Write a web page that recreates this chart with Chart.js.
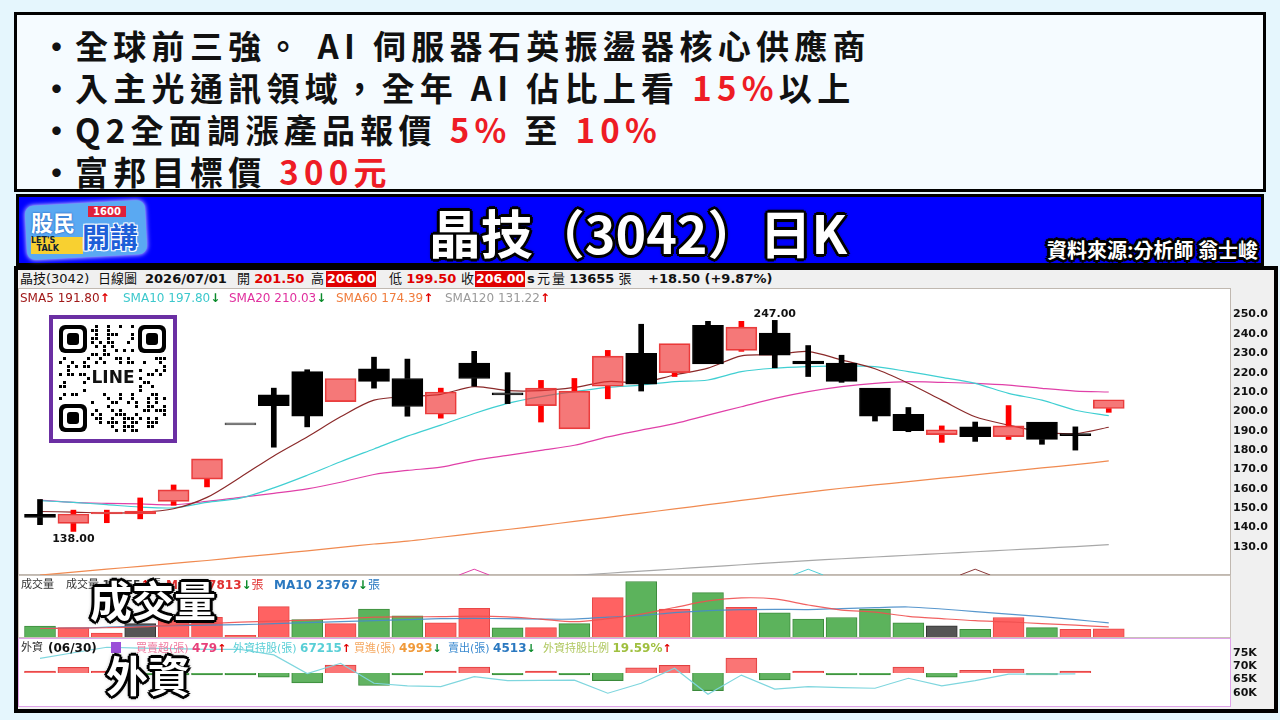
<!DOCTYPE html>
<html>
<head>
<meta charset="utf-8">
<script src="https://cdn.jsdelivr.net/npm/chart.js@4.4.1/dist/chart.umd.min.js"></script>
<style>
  body { margin: 0; width: 1280px; height: 720px; background: #e5f6fd; position: relative; overflow: hidden;
         font-family: "DejaVu Sans", "Noto Sans CJK TC", sans-serif; }
  .abs { position: absolute; white-space: nowrap; }
  #notes { left: 14px; top: 12px; width: 1246px; height: 174px; background: #f5fbff; border: 3px solid #000; }
  .note { position: absolute; left: 40px; height: 42px; line-height: 42px; font: bold 33px "Noto Sans CJK TC";
          letter-spacing: 5.3px; color: #111; white-space: nowrap; }
  .note .dot { display: inline-block; width: 35px; letter-spacing: 0; }
  .red { color: #ee1c25; }
  #titlebar { left: 16px; top: 194px; width: 1242px; height: 66px; background: #0000ff; border: 3px solid #000; }
  .outline { color: #fff; text-shadow: -2px -2px 0 #000, 2px -2px 0 #000, -2px 2px 0 #000, 2px 2px 0 #000,
             0 -3px 0 #000, 0 3px 0 #000, -3px 0 0 #000, 3px 0 0 #000, 0 0 5px #000; }
  #board { left: 14px; top: 266px; width: 1256px; height: 439px; background: #f0f0f0; border: 4px solid #000; }
  .pane { position: absolute; background: #fff; }
  canvas { position: absolute; }
  .info { position: absolute; top: 270px; font-size: 13px; line-height: 18px; color: #111; white-space: nowrap; }
  .num { font-weight: bold; }
  .box { position: absolute; top: 271px; height: 16px; line-height: 16px; background: #e00000; color: #fff;
         font: bold 12.5px "DejaVu Sans"; padding: 0 1px; }
  .leg { position: absolute; font-size: 12px; line-height: 14px; white-space: nowrap; }
  .up { color: #e00000; font-weight: bold; }
  .dn { color: #0a8a2a; font-weight: bold; }
  .big { position: absolute; font: bold 42px "Noto Sans CJK TC"; line-height: 46px; white-space: nowrap; }
</style>
</head>
<body>

<!-- top notes -->
<div id="notes" class="abs"></div>
<div class="note" style="top:21px"><span class="dot">•</span>全球前三強。 AI 伺服器石英振盪器核心供應商</div>
<div class="note" style="top:63px"><span class="dot">•</span>入主光通訊領域，全年 AI 佔比上看 <span class="red">15%</span>以上</div>
<div class="note" style="top:105px"><span class="dot">•</span>Q2全面調漲產品報價 <span class="red">5%</span> 至 <span class="red">10%</span></div>
<div class="note" style="top:147px"><span class="dot">•</span>富邦目標價 <span class="red">300元</span></div>

<!-- title bar -->
<div id="titlebar" class="abs"></div>
<div class="abs" style="left:26px;top:203px;width:120px;height:54px;background:#5aa9f2;border-radius:8px;box-shadow:0 0 5px #fff;transform:rotate(-3deg)"></div>
<div class="abs" style="left:31px;top:205px;font:bold 22px 'Noto Sans CJK TC';color:#fff;text-shadow:0 0 2px #1144aa">股民</div>
<div class="abs" style="left:88px;top:206px;width:38px;height:11px;background:#e0203a;color:#fff;font:bold 10px 'DejaVu Sans';line-height:11px;text-align:center">1600</div>
<div class="abs" style="left:31px;top:237px;width:52px;height:17px;background:#f8d030;font:bold 8px 'DejaVu Sans';line-height:8px;color:#123">LET'S<br>&nbsp;&nbsp;TALK</div>
<div class="abs" style="left:82px;top:216px;font:bold 28px 'Noto Sans CJK TC';color:#1d5fd8;text-shadow:-1px -1px 0 #fff,1px -1px 0 #fff,-1px 1px 0 #fff,1px 1px 0 #fff">開講</div>
<div class="abs outline" style="left:0;width:1276px;top:201px;text-align:center;font:bold 52px 'Noto Sans CJK TC';line-height:62px">晶技（3042）日K</div>
<div class="abs outline" style="right:22px;top:238px;font:bold 20px 'Noto Sans CJK TC';line-height:24px">資料來源:分析師 翁士峻</div>

<!-- chart board -->
<div id="board" class="abs"></div>
<div class="pane" style="left:18px;top:288px;width:1211px;height:285px;border:1px solid #c0b8b0"></div>
<div class="pane" style="left:18px;top:575px;width:1211px;height:61px;border:1px solid #c8c0b8"></div>
<div class="pane" style="left:18px;top:638px;width:1211px;height:67px;border:1px solid #e0a4ea"></div>

<div class="info" style="left:20px">晶技(3042)</div>
<div class="info" style="left:98px">日線圖</div>
<div class="info num" style="left:145px">2026/07/01</div>
<div class="info" style="left:237px">開 <span class="num" style="color:#e00000">201.50</span></div>
<div class="info" style="left:311px">高</div>
<div class="box" style="left:326px">206.00</div>
<div class="info" style="left:389px">低 <span class="num" style="color:#e00000">199.50</span></div>
<div class="info" style="left:461px">收</div>
<div class="box" style="left:475px">206.00</div>
<div class="info" style="left:527px"><b>s</b></div>
<div class="info" style="left:537px">元</div>
<div class="info" style="left:552px">量 <span class="num">13655</span> 張</div>
<div class="info num" style="left:648px">+18.50 (+9.87%)</div>

<canvas id="priceChart" width="1249" height="286" style="left:19px;top:289px"></canvas>
<canvas id="volChart" width="1249" height="60" style="left:19px;top:577px"></canvas>
<canvas id="frgChart" width="1249" height="66" style="left:19px;top:640px"></canvas>

<div class="leg" style="left:20px;top:291px;color:#a01818">SMA5 191.80<span class="up">↑</span></div>
<div class="leg" style="left:123px;top:291px;color:#3cc8cc">SMA10 197.80<span class="dn">↓</span></div>
<div class="leg" style="left:229px;top:291px;color:#e0309e">SMA20 210.03<span class="dn">↓</span></div>
<div class="leg" style="left:336px;top:291px;color:#f07c3c">SMA60 174.39<span class="up">↑</span></div>
<div class="leg" style="left:445px;top:291px;color:#9a9a9a">SMA120 131.22<span class="up">↑</span></div>

<canvas id="qr" width="128" height="128" style="left:49px;top:315px"></canvas>

<div class="leg" style="left:21px;top:578px;color:#333;font-size:11px">成交量</div>
<div class="leg" style="left:66px;top:578px;color:#333;font-size:11px">成交量 <b>13655</b><span class="up">↑</span>張</div>
<div class="leg" style="left:166px;top:578px;color:#e03030;font-weight:bold">MA5 17813<span class="dn">↓</span><span style="font-weight:normal">張</span></div>
<div class="leg" style="left:274px;top:578px;color:#2a78c0;font-weight:bold">MA10 23767<span class="dn">↓</span><span style="font-weight:normal">張</span></div>
<div class="big outline" style="left:90px;top:576px">成交量</div>

<div class="leg" style="left:21px;top:641px;color:#333;font-size:11px">外資</div>
<div class="leg" style="left:48px;top:641px;color:#111;font-weight:bold">(06/30)</div>
<div class="abs" style="left:111px;top:642px;width:10px;height:11px;background:#9b50d8"></div>
<div class="leg" style="left:136px;top:641px;color:#f07aa0;font-size:11px">買賣超(張) <b style="color:#e8407a;font-size:12px">479</b><span class="up">↑</span></div>
<div class="leg" style="left:233px;top:641px;color:#58cfd6;font-size:11px">外資持股(張) <b style="font-size:12px">67215</b><span class="up">↑</span></div>
<div class="leg" style="left:354px;top:641px;color:#f5a860;font-size:11px">買進(張) <b style="color:#f09a3a;font-size:12px">4993</b><span class="dn">↓</span></div>
<div class="leg" style="left:448px;top:641px;color:#3a8ad0;font-size:11px">賣出(張) <b style="color:#2a78c0;font-size:12px">4513</b><span class="dn">↓</span></div>
<div class="leg" style="left:543px;top:641px;color:#b0c860;font-size:11px">外資持股比例 <b style="color:#a0c040;font-size:12px">19.59%</b><span class="up">↑</span></div>
<div class="big outline" style="left:106px;top:651px">外資</div>

<script>
// daily candles (index 0 .. 32, last = 2026/07/01)
const opens  = [146.8, 142.2, 147, 147, 153.5, 165, 193, 208.5, 220.5, 205, 222, 217, 198.5, 225, 209.5, 203, 191, 213, 230, 220, 244.5, 231.5, 240.5, 226, 225, 212, 198.5, 188, 192, 187, 194.5, 188, 201.5];
const highs  = [154.5, 149, 149, 155.3, 162, 175.5, 193, 212, 221.5, 217, 228, 227, 212, 231, 220, 216, 217, 231.5, 245, 235, 246.5, 246.5, 247, 234, 229, 212, 202, 192.5, 194.5, 203, 194.5, 192, 206];
const lows   = [141.5, 138, 142.5, 144.5, 151.5, 161, 193, 181.5, 192, 205, 212, 197.5, 196.5, 213, 204, 194.5, 191, 206.5, 210.5, 218, 224.5, 231, 222.5, 218, 215, 195, 189.5, 184, 184.5, 185.5, 183, 180, 199.5];
const closes = [145.2, 147, 148, 148.5, 159.5, 175.5, 193, 203, 197.5, 217, 215.5, 202.5, 210, 217, 208.5, 212, 210.5, 228.5, 214, 235, 224.5, 243.5, 229, 224.5, 215.5, 197.5, 190, 190.5, 187, 192.5, 185.5, 187.5, 206];

// moving averages
const sma5   = [148.3, 148.0, 147.5, 147.8, 149.7, 155.6, 166.0, 177.0, 186.8, 197.2, 205.8, 207.6, 208.8, 212.8, 210.7, 210.7, 212.4, 215.4, 214.9, 218.8, 222.3, 228.7, 229.2, 230.9, 226.6, 222.0, 214.5, 205.8, 197.2, 192.9, 189.4, 188.5, 191.8];
const sma10  = [153.9, 153.0, 151.8, 150.6, 150.2, 153.0, 155.2, 160.5, 167.0, 174.0, 180.6, 187.2, 192.9, 198.9, 204.1, 207.6, 210.2, 212.4, 213.6, 215.4, 216.2, 220.5, 222.3, 223.1, 223.5, 223.1, 220.5, 217.6, 214.5, 209.3, 205.8, 200.6, 197.8];
const sma20  = [154.2, 153.0, 152.5, 152.2, 151.8, 153.5, 155.6, 157.7, 160.0, 163.4, 167.4, 169.5, 171.2, 174.7, 177.3, 179.9, 182.5, 186.8, 190.3, 193.7, 198.1, 202.4, 206.7, 210.2, 212.8, 214.5, 215.4, 215.0, 214.5, 213.6, 211.9, 210.5, 210.0];
const sma60  = [115.5, 117, 118.5, 120, 121.5, 123, 124.7, 126.3, 128, 129.8, 131.5, 133, 135, 137, 139, 141, 143.2, 145.3, 147.5, 149.6, 151.8, 154, 156.2, 158.3, 160.3, 162, 163.7, 165.5, 167.2, 169, 170.8, 172.5, 174.4];
const sma120 = [null, null, null, null, null, null, null, null, null, null, null, null, null, null, 113, 114.2, 115.3, 116.4, 117.5, 118.6, 119.7, 120.8, 121.9, 122.9, 123.9, 124.8, 125.7, 126.6, 127.5, 128.4, 129.3, 130.2, 131.2];

// small cross markers at the bottom of the price pane
const crossDays   = [13, 23, 28];
const crossColors = ['#e040a8', '#50d0d8', '#8b3a3a'];

// volume in thousands of 張
const volume = [18.2, 15.8, 6.8, 22.6, 34, 33, 3, 51, 29.4, 22.6, 47.1, 35.7, 23.8, 48.1, 15.3, 15.8, 22.6, 66.3, 93.5, 47.1, 74.8, 49.8, 40.8, 30.1, 32.8, 47.1, 23.8, 18.7, 13.1, 32.8, 15.8, 13.1, 13.7];
const volKind = ['g', 'r', 'r', 'k', 'r', 'r', 'r', 'r', 'g', 'r', 'g', 'g', 'r', 'r', 'g', 'r', 'g', 'r', 'g', 'r', 'g', 'r', 'g', 'g', 'g', 'g', 'g', 'k', 'g', 'r', 'g', 'r', 'r'];
const volMa5  = [14.3, 14.8, 15.6, 17, 19.9, 22.4, 25, 26.7, 28.4, 30.9, 33.5, 34, 34.3, 35.2, 34, 30.1, 25.8, 30.9, 38.6, 49.6, 60.7, 65.8, 64.1, 53.9, 45.4, 42, 34.7, 30.9, 27.5, 25.5, 22.4, 19.9, 17];
const volMa10 = [14.3, 14.8, 16.5, 18.2, 19, 19.9, 20.7, 22.4, 24.1, 25.8, 27.5, 29.2, 30.9, 31.3, 30.9, 30.1, 30.1, 33.5, 36, 41.1, 44.5, 46.2, 46.6, 46.2, 47.9, 49.3, 50.5, 47.1, 42.8, 38.6, 34.3, 29.2, 23.8];

// foreign investors (data through 06/30)
const frgNet  = [300, 2300, 300, -300, -300, -300, -300, -1700, -4000, 3200, -5000, -300, 300, 2400, -600, 300, -300, -3100, 2100, 3100, -7100, 6000, -2800, 300, -300, -400, 2400, -1700, 1100, 1600, -300, 479];
const frgHold = [73.1, 75.2, 77.3, 77.0, 76.8, 76.5, 76.5, 74.4, 67.3, 71.2, 63.6, 62.6, 62.3, 66.1, 64.6, 64.7, 64.8, 59.8, 63.6, 69.3, 59.4, 66.7, 61.4, 62.3, 61.9, 61.7, 65.5, 62.6, 64.6, 67.1, 67.1, 67.2];

// axis tick labels
const priceTickRange = [130, 250];
const volTickValues = [50];
const frgTickValues = [60, 65, 70, 75];

Chart.defaults.font.family = '"DejaVu Sans", sans-serif';
Chart.defaults.animation = false;
Chart.defaults.responsive = false;
Chart.defaults.plugins.legend.display = false;
Chart.defaults.plugins.tooltip.enabled = false;

const xRange = { type: 'linear', min: -0.629, max: 35.63, offset: false, display: false };
const tickFont = { size: 11, weight: 'bold', family: '"DejaVu Sans", sans-serif' };

function rightAxis(min, max, step, labelFn) {
    return {
        position: 'right', min: min, max: max,
        grid: { display: false, drawTicks: false }, border: { display: false },
        ticks: { stepSize: step, padding: 3, color: '#111', font: tickFont, autoSkip: false, callback: labelFn },
        afterFit: function (s) { s.width = 38; s.paddingTop = 0; s.paddingBottom = 0; }
    };
}

function series(arr) {
    return arr.map((v, i) => ({ x: i, y: v }));
}

function lineSet(arr, color, yAxisID) {
    return { type: 'line', data: series(arr), borderColor: color, borderWidth: 1.2, pointRadius: 0, tension: 0.3, order: 3, yAxisID: yAxisID || 'y' };
}

// price pane
const candleColor = closes.map((c, i) => c > opens[i] ? 'rgba(240,50,50,0.66)' : (c < opens[i] ? '#000' : '#555'));
const wickColor = closes.map((c, i) => c >= opens[i] ? '#ff0000' : '#000');
const bodyBorder = closes.map((c, i) => c > opens[i] ? '#e84040' : (c < opens[i] ? '#000' : '#555'));

const upperWick = highs.map((h, i) => {
    const top = Math.max(opens[i], closes[i]);
    return { x: i, y: h > top ? [top, h] : null };
});
const lowerWick = lows.map((l, i) => {
    const bot = Math.min(opens[i], closes[i]);
    return { x: i, y: l < bot ? [l, bot] : null };
});

const priceMin = 115.5;
const crossSets = crossDays.map((d, k) => ({
    type: 'line', data: [{ x: d - 0.45, y: priceMin }, { x: d, y: priceMin + 3 }, { x: d + 0.45, y: priceMin }],
    borderColor: crossColors[k], borderWidth: 1, pointRadius: 0, order: 3
}));

const extremeLabels = {
    id: 'extremeLabels',
    afterDatasetsDraw(chart) {
        const { ctx, scales: { x, y } } = chart;
        const hi = highs.indexOf(Math.max(...highs));
        const lo = lows.indexOf(Math.min(...lows));
        ctx.save();
        ctx.font = 'bold 11px "DejaVu Sans"';
        ctx.fillStyle = '#111';
        ctx.textAlign = 'center';
        ctx.textBaseline = 'bottom';
        ctx.fillText(highs[hi].toFixed(2), x.getPixelForValue(hi), y.getPixelForValue(highs[hi]) - 1);
        ctx.textBaseline = 'top';
        ctx.fillText(lows[lo].toFixed(2), x.getPixelForValue(lo), y.getPixelForValue(lows[lo]) + 2);
        ctx.restore();
    }
};

new Chart(document.getElementById('priceChart'), {
    type: 'bar',
    data: {
        datasets: [
            { data: closes.map((c, i) => ({ x: i, y: [opens[i], c] })), backgroundColor: candleColor, borderColor: bodyBorder,
              borderWidth: 1, borderSkipped: false, barThickness: 31, minBarLength: 2, grouped: false, order: 1 },
            { data: upperWick, backgroundColor: wickColor, barThickness: 5, borderWidth: 0, grouped: false, order: 2 },
            { data: lowerWick, backgroundColor: wickColor, barThickness: 5, borderWidth: 0, grouped: false, order: 2 },
            lineSet(sma5, '#8b2a2a'),
            lineSet(sma10, '#40cfd2'),
            lineSet(sma20, '#e040a8'),
            lineSet(sma60, '#f08a50'),
            lineSet(sma120, '#a8a8a8'),
            ...crossSets
        ]
    },
    options: {
        layout: { padding: 0 },
        scales: {
            x: xRange,
            y: rightAxis(priceMin, 263.2, 10, v => (v >= priceTickRange[0] && v <= priceTickRange[1] && v % 10 === 0) ? v.toFixed(1) : '')
        }
    },
    plugins: [extremeLabels]
});

// volume pane
const volFill = { g: '#5cb35c', r: '#ff6262', k: '#555555' };
const volLine = { g: '#3d8c3d', r: '#e84848', k: '#333333' };
new Chart(document.getElementById('volChart'), {
    type: 'bar',
    data: {
        datasets: [
            { data: series(volume), backgroundColor: volKind.map(k => volFill[k]), borderColor: volKind.map(k => volLine[k]),
              borderWidth: 1, barThickness: 31, grouped: false, order: 2 },
            { ...lineSet(volMa5, 'rgba(240,80,80,0.9)'), order: 1 },
            { ...lineSet(volMa10, 'rgba(70,140,200,0.9)'), order: 1 }
        ]
    },
    options: {
        layout: { padding: 0 },
        scales: {
            x: xRange,
            y: rightAxis(0, 101, 50, v => volTickValues.includes(v) ? v + 'K' : '')
        }
    }
});

// foreign investors pane
new Chart(document.getElementById('frgChart'), {
    type: 'bar',
    data: {
        datasets: [
            { data: series(frgNet), yAxisID: 'net', backgroundColor: frgNet.map(v => v > 0 ? 'rgba(250,110,110,0.95)' : 'rgba(90,175,90,0.95)'),
              borderColor: frgNet.map(v => v > 0 ? '#e04040' : '#3a8a3a'), borderWidth: 1, barThickness: 31, minBarLength: 2,
              grouped: false, order: 2 },
            { ...lineSet(frgHold, '#7fd6de', 'y'), tension: 0, order: 1 }
        ]
    },
    options: {
        layout: { padding: 0 },
        scales: {
            x: xRange,
            net: { display: false, min: -13200, max: 13200 },
            y: rightAxis(54.94, 80.06, 5, v => frgTickValues.includes(v) ? v + 'K' : '')
        }
    }
});

// LINE qr badge
(function drawQr() {
    const c = document.getElementById('qr').getContext('2d');
    c.fillStyle = '#6b2fa3';
    c.fillRect(0, 0, 128, 128);
    c.fillStyle = '#fff';
    c.fillRect(4, 4, 120, 120);
    const cell = 4, ox = 10, oy = 10, n = 27;
    c.fillStyle = '#000';
    for (let r = 0; r < n; r++) {
        for (let q = 0; q < n; q++) {
            const inFinder = (r < 8 && q < 8) || (r < 8 && q > n - 9) || (r > n - 9 && q < 8);
            const inLogo = r > 9 && r < 17 && q > 7 && q < 20;
            if (inFinder || inLogo) continue;
            if (((r * 7 + q * 11) ^ (r * q)) % 3 === 0) c.fillRect(ox + q * cell, oy + r * cell, cell - 1, cell - 1);
        }
    }
    function finder(x, y) {
        c.fillStyle = '#000';
        c.beginPath(); c.roundRect(x, y, 28, 28, 6); c.fill();
        c.fillStyle = '#fff';
        c.beginPath(); c.roundRect(x + 4, y + 4, 20, 20, 4); c.fill();
        c.fillStyle = '#000';
        c.beginPath(); c.roundRect(x + 8, y + 8, 12, 12, 3); c.fill();
    }
    finder(ox, oy);
    finder(ox + (n - 7) * cell - 1, oy);
    finder(ox, oy + (n - 7) * cell - 1);
    c.fillStyle = '#111';
    c.font = 'bold 17px "DejaVu Sans"';
    c.textAlign = 'center';
    c.textBaseline = 'middle';
    c.fillText('LINE', 64, 64);
})();
</script>
</body>
</html>
